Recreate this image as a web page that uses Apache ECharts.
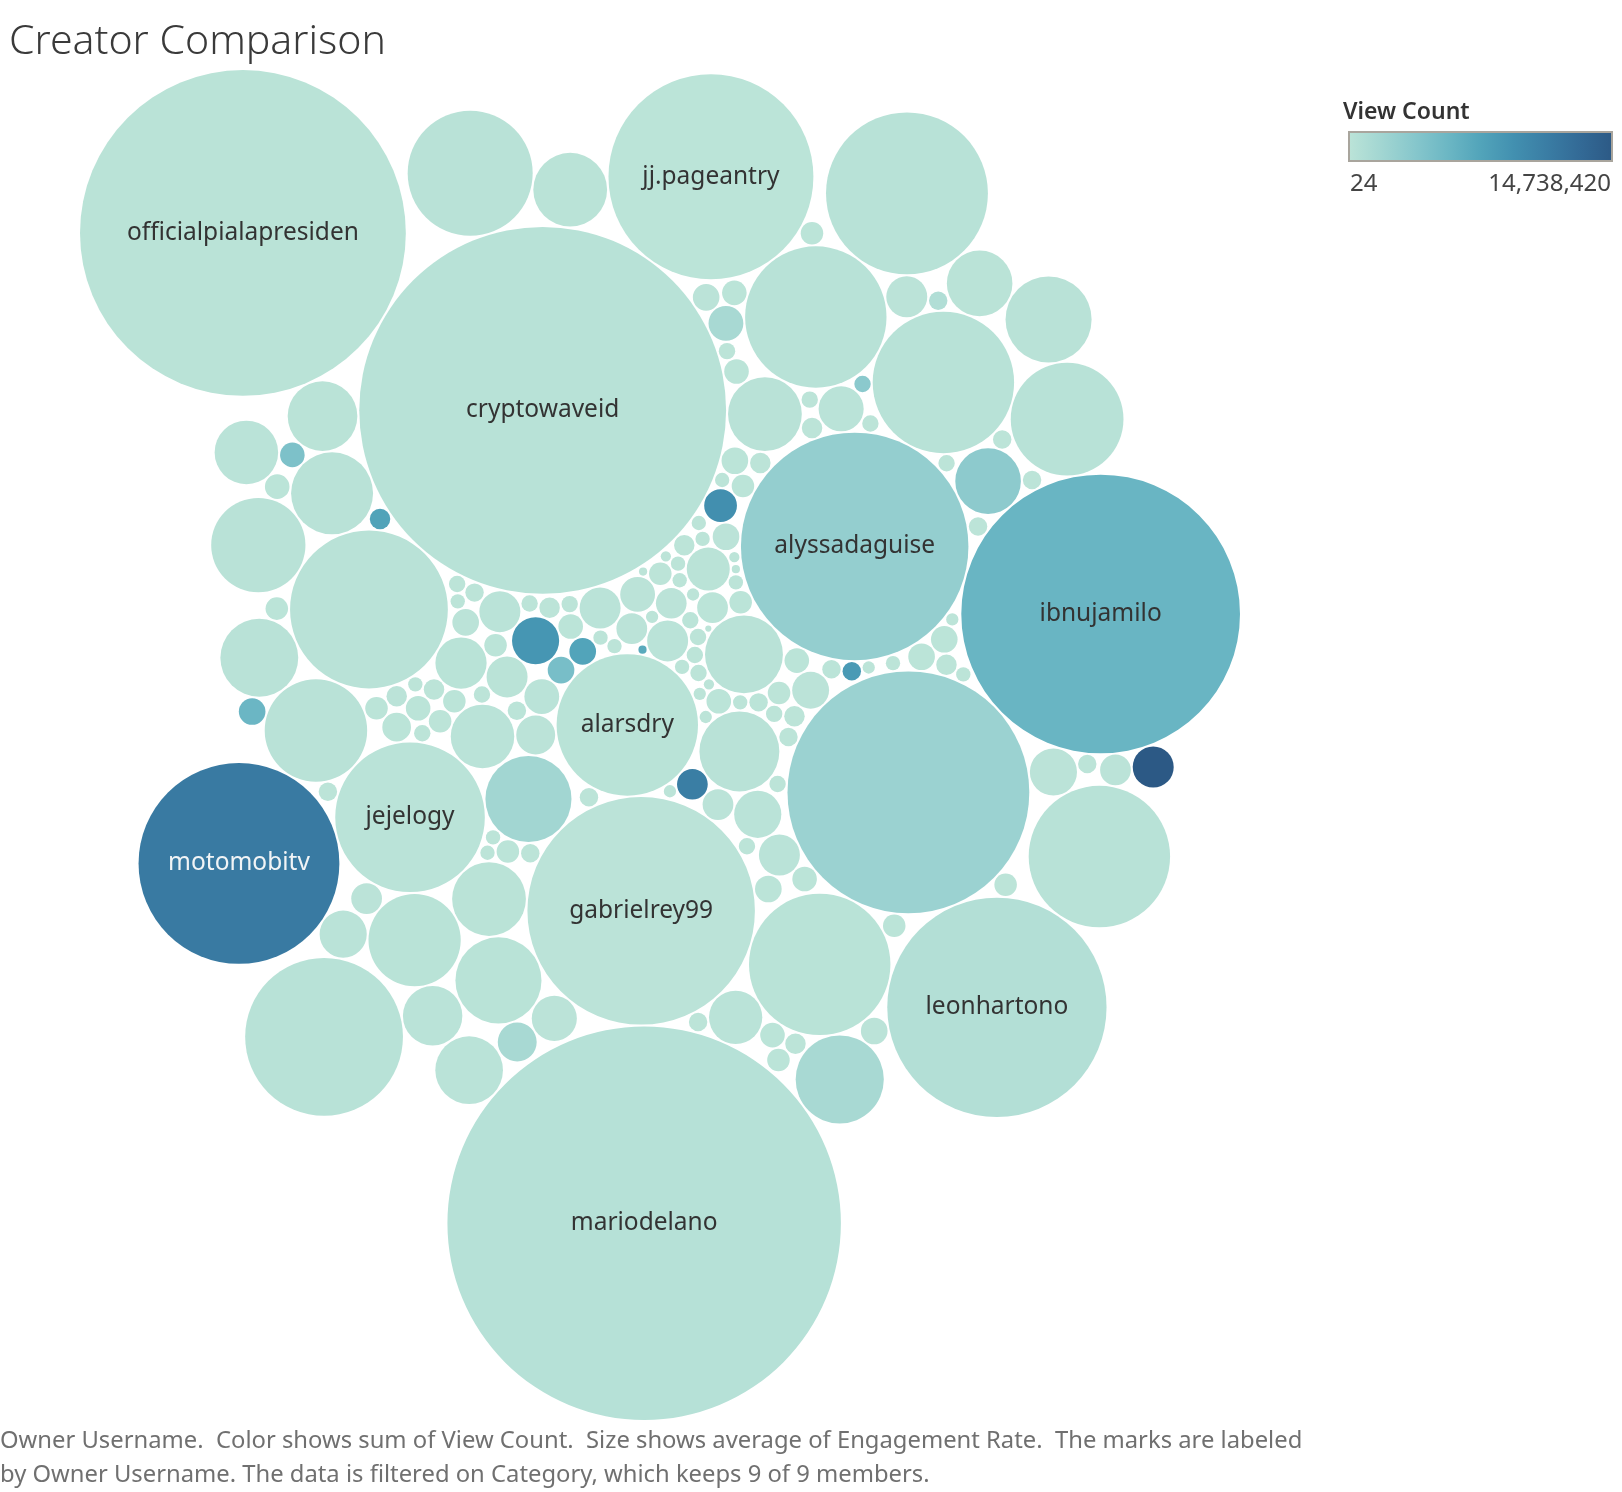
<!DOCTYPE html>
<html><head><meta charset="utf-8">
<script src="https://cdn.jsdelivr.net/npm/echarts@6/dist/echarts.min.js"></script>
<style>html,body{margin:0;padding:0;background:#fff}#chart{width:1622px;height:1492px}</style>
</head><body><div id="chart"></div>
<script>
// Owner usernames in sort (packing) order; only the labelled marks carry a visible name
const creators = [
 '','','','','','','','','','alarsdry',
 '','','','','','','','','','',
 'alyssadaguise','','','','','','','','','',
 'cryptowaveid','','','','','','','','','',
 '','','','','','','','','','',
 '','','','','','gabrielrey99','','','','',
 '','','','','','','','','','',
 '','','','','','','','','','',
 '','','','','','ibnujamilo','jejelogy','','','',
 '','','','','','','','','','jj.pageantry',
 '','','','','','','','','','',
 '','','leonhartono','','','','','mariodelano','','',
 '','','','','','','','','','',
 '','','','','','','','','','',
 'motomobitv','','','','','officialpialapresiden','','','','',
 '','','','','','','','','','',
 '','','','','','','','','','',
 '','','','','','','','','',''
];
// Average engagement rate (%) -> bubble size
const engagementRate = [
 0.064,0.064,0.400,0.064,1.444,0.225,0.049,0.225,0.064,4.761,
 0.036,0.121,0.025,0.441,0.036,0.225,0.036,0.289,0.144,0.049,
 12.321,0.049,0.121,0.049,0.049,1.521,0.049,0.400,0.081,0.100,
 32.041,0.121,0.144,0.169,0.049,0.169,0.324,0.049,0.064,0.256,
 0.144,0.100,0.064,0.081,0.049,0.169,13.924,0.225,0.529,0.081,
 0.036,0.121,0.100,0.289,0.225,12.321,0.529,0.169,0.361,0.400,
 0.400,0.100,0.081,1.764,0.081,0.081,1.296,0.121,0.009,0.961,
 0.400,0.064,0.169,0.625,0.169,0.081,0.100,5.929,0.169,0.025,
 0.484,0.121,0.100,0.064,0.169,18.496,5.329,4.761,4.761,0.144,
 4.761,0.064,0.144,0.049,0.064,0.100,1.296,0.064,0.121,10.000,
 0.049,1.024,0.081,0.144,2.500,0.049,1.600,0.121,0.289,1.764,
 0.196,0.064,11.449,0.676,0.529,3.025,0.100,36.864,0.064,0.036,
 2.025,4.761,0.400,0.484,0.016,1.444,0.169,0.081,0.121,0.144,
 0.121,0.025,0.064,0.121,0.100,0.049,2.116,1.156,0.144,6.241,
 9.604,0.064,1.849,0.064,1.024,25.281,1.764,0.225,1.296,0.036,
 0.049,0.361,0.036,0.225,0.121,0.121,0.049,0.049,0.081,0.841,
 0.081,0.081,0.016,0.169,0.100,0.144,0.144,0.081,0.016,0.529,
 3.721,5.929,0.081,0.121,0.064,0.169,0.081,1.089,0.400,0.961
];
// Sum of view count -> bubble colour
const viewCount = [
 18420,9310,131500,45200,212300,64200,2870,88300,11800,187350,
 5400,37400,760,156800,3120,71300,8950,97200,43900,24,
 2800000,6150,28400,15700,4380,246900,9020,118400,52100,33800,
 286115,26900,61700,74100,12600,7400000,102600,7830,19650,9300000,
 48300,21700,14200,29800,3960,4700000,2300000,11000000,8700000,38600,
 2240,55900,17300,126700,83400,98640,139800,41200,92600,167200,
 108900,22800,8300000,1850000,31500,46700,204600,36100,1290,143700,
 121300,10400,58800,178200,67900,25300,30600,231400,49800,4910,
 115800,57300,20100,13900,62400,5750000,121870,268500,192700,42700,
 253800,16800,51600,8150,12300,27600,164300,15100,34900,64210,
 6820,3300000,24600,47100,241700,9870,218900,39200,1400000,196400,
 56400,19200,620480,147600,88900,274300,73800,412530,13600,5260,
 183600,263900,104100,93700,6800000,209500,69200,23400,35700,52800,
 40300,3480,16200,31900,7500000,7450,221700,172900,45800,281600,
 11300000,18700,1450000,3400000,158300,158204,199800,79600,176500,4120,
 10900,1450000,6630,84500,38100,44600,11200,8480,26700,137200,
 19800,32400,2950,71200,28900,4400000,59300,21500,5830,112700,
 226800,259400,17900,43300,14800,5600000,750000,151900,14738420,133600
];
const colorLegendTicks = ['24', '14,738,420'];
const colorDomain = [24, 14738420];
const blueTeal = ['#bce4d8','#a2d6d2','#87c7cc','#6cb7c4','#52a4ba','#4290b0','#3a7da4','#336a96','#2c5985'];

// ---- size scale (area proportional to engagement) ----
const maxRadius = 198;
const maxEng = Math.max(...engagementRate);
const baseRadii = engagementRate.map(v => maxRadius * Math.sqrt(v / maxEng));

// ---- packed-bubble layout: marks placed in sort order, each at the free tangent spot nearest the start ----
function packBubbles(rs, pad) {
  const P = [];
  for (let i = 0; i < rs.length; i++) {
    const r = rs[i] + pad;
    if (P.length === 0) { P.push({x: 0, y: 0, r}); continue; }
    if (P.length === 1) { P.push({x: P[0].r + r, y: 0, r}); continue; }
    let best = null, bestD = Infinity;
    for (let a = 0; a < P.length; a++) {
      const A = P[a];
      for (let b = a + 1; b < P.length; b++) {
        const B = P[b];
        const dx = B.x - A.x, dy = B.y - A.y, d = Math.hypot(dx, dy);
        const ra = A.r + r, rb = B.r + r;
        if (d === 0 || d > ra + rb || d < Math.abs(ra - rb)) continue;
        const l = (ra * ra - rb * rb + d * d) / (2 * d);
        const h = Math.sqrt(Math.max(0, ra * ra - l * l));
        const mx = A.x + dx * l / d, my = A.y + dy * l / d;
        for (const s of [1, -1]) {
          const px = mx - s * dy * h / d, py = my + s * dx * h / d;
          const dist = Math.hypot(px, py);
          if (dist >= bestD) continue;
          let ok = true;
          for (let k = 0; k < P.length; k++) {
            if (k === a || k === b) continue;
            const C = P[k], e = C.r + r - 1e-6;
            const ex = C.x - px, ey = C.y - py;
            if (ex * ex + ey * ey < e * e) { ok = false; break; }
          }
          if (ok) { best = {x: px, y: py}; bestD = dist; }
        }
      }
    }
    P.push({x: best.x, y: best.y, r});
  }
  return P;
}
// orientation of the whole packing (degrees, clockwise on screen)
const packRotationDeg = 100;
const th = packRotationDeg * Math.PI / 180;
const rotated = packBubbles(baseRadii, 1).map(p => ({
  x: p.x * Math.cos(th) - p.y * Math.sin(th),
  y: p.x * Math.sin(th) + p.y * Math.cos(th)
}));
let x0 = Infinity, x1 = -Infinity, y0 = Infinity, y1 = -Infinity;
rotated.forEach((p, i) => {
  x0 = Math.min(x0, p.x - baseRadii[i]); x1 = Math.max(x1, p.x + baseRadii[i]);
  y0 = Math.min(y0, p.y - baseRadii[i]); y1 = Math.max(y1, p.y + baseRadii[i]);
});
// fit the pack inside the plot pane (between title and caption)
const pane = {left: 12, right: 1310, top: 70, bottom: 1420};
const fit = Math.min(1, (pane.right - pane.left) / (x1 - x0), (pane.bottom - pane.top) / (y1 - y0));
const cx = 660, cy = (pane.top + pane.bottom) / 2;
const seriesData = rotated.map((p, i) => [
  (p.x - (x0 + x1) / 2) * fit + cx,
  (p.y - (y0 + y1) / 2) * fit + cy,
  baseRadii[i] * fit,
  viewCount[i]
]);

const chart = echarts.init(document.getElementById('chart'), null, {renderer: 'canvas'});
const FONT = '"Noto Sans", "Open Sans", sans-serif';
chart.setOption({
  animation: false,
  backgroundColor: '#ffffff',
  grid: {left: 0, right: 0, top: 0, bottom: 0},
  xAxis: {type: 'value', min: 0, max: 1622, show: false},
  yAxis: {type: 'value', min: 0, max: 1492, inverse: true, show: false},
  visualMap: {
    type: 'continuous', show: false, dimension: 3, seriesIndex: 0,
    min: colorDomain[0], max: colorDomain[1],
    inRange: {color: blueTeal}
  },
  series: [{
    type: 'custom',
    data: seriesData,
    renderItem: function (params, api) {
      const idx = params.dataIndex;
      const c = api.coord([api.value(0), api.value(1)]);
      const r = api.size([api.value(2), api.value(2)])[0];
      const name = creators[idx];
      const el = {
        type: 'circle',
        shape: {cx: c[0], cy: c[1], r: r},
        style: {fill: api.visual('color')}
      };
      if (name) {
        el.textContent = {
          style: {
            text: name, fontSize: 24.5, fontFamily: FONT,
            fill: api.value(3) > 8000000 ? '#f1f4f6' : '#333333'
          }
        };
        el.textConfig = {position: 'inside'};
      }
      return el;
    }
  }],
  graphic: [
    {type: 'text', x: 9, y: 42, style: {text: 'Creator Comparison', fontSize: 41, fontWeight: 300, fontFamily: FONT, fill: '#3a3a3a', verticalAlign: 'middle'}},
    {type: 'text', x: 1343, y: 112, style: {text: 'View Count', fontSize: 23, fontWeight: 600, fontFamily: FONT, fill: '#333333', verticalAlign: 'middle'}},
    {type: 'rect', shape: {x: 1349, y: 132, width: 263, height: 29},
      style: {
        fill: new echarts.graphic.LinearGradient(0, 0, 1, 0, blueTeal.map((c, i) => ({offset: i / (blueTeal.length - 1), color: c}))),
        stroke: '#a9a59d', lineWidth: 2
      }},
    {type: 'text', x: 1350, y: 184, style: {text: colorLegendTicks[0], fontSize: 24, fontFamily: FONT, fill: '#444444', verticalAlign: 'middle'}},
    {type: 'text', x: 1611, y: 184, style: {text: colorLegendTicks[1], fontSize: 24, fontFamily: FONT, fill: '#444444', align: 'right', verticalAlign: 'middle'}},
    {type: 'text', x: 0, y: 1441, style: {text: 'Owner Username.  Color shows sum of View Count.  Size shows average of Engagement Rate.  The marks are labeled', fontSize: 23.8, fontFamily: FONT, fill: '#707070', verticalAlign: 'middle'}},
    {type: 'text', x: 0, y: 1475, style: {text: 'by Owner Username. The data is filtered on Category, which keeps 9 of 9 members.', fontSize: 23.8, fontFamily: FONT, fill: '#707070', verticalAlign: 'middle'}}
  ]
});
</script>
</body></html>
